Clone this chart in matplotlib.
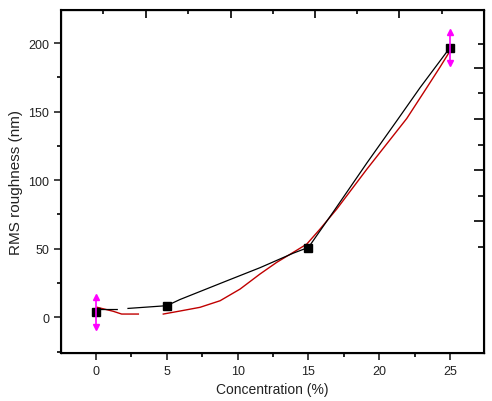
import numpy as np
import matplotlib
matplotlib.use('Agg')
import matplotlib.pyplot as plt
from matplotlib.ticker import MultipleLocator, FixedLocator, NullFormatter

plt.rcParams['font.family'] = ['Liberation Sans', 'DejaVu Sans']

# measured points
conc = [0, 5, 15, 25]
rms = [4, 8.5, 50.6, 196.7]
err_x = [0, 25]
err_y = [4, 196.7]
err = [11, 11]

# connecting line (as drawn, with gap)
line_x = [0, 1.5, np.nan, 2.26, 5, 5.93, 9.23, 11.58, 13.93, 15, 16.76, 19.12, 21.35, 22.88, 25]
line_y = [5.7, 5.7, np.nan, 6.5, 8.5, 13.0, 26.6, 36.2, 46.8, 51, 77, 112.5, 145, 167.5, 196.8]

# fitted curve
fit_x = [0.09, 1.22, 1.81, 2.99, np.nan, 4.75, 5.93, 7.34, 8.76, 10.17, 11.58, 12.76,
         13.93, 14.88, 15.82, 17.0, 19.12, 21.94, 23.23, 24.29, 24.95]
fit_y = [7.3, 4.4, 2.4, 2.4, np.nan, 2.4, 4.6, 7.3, 12.1, 20.6, 31.6, 40.1,
         47.4, 53.4, 64.4, 79, 108, 145, 165.5, 182.5, 193.5]

fig = plt.figure(figsize=(4.92, 4.02), dpi=100)
ax = fig.add_axes([0.124, 0.1194, 0.860, 0.853])

ax.plot(fit_x, fit_y, color='#c00000', lw=1.0)
ax.plot(line_x, line_y, color='black', lw=0.9)
ax.plot(conc, rms, 's', color='black', ms=6)

ax.errorbar(err_x, err_y, yerr=err, fmt='none', ecolor='#ff00ff', elinewidth=1.2, capsize=0)
ax.plot(err_x, np.array(err_y) + np.array(err), '^', color='#ff00ff', ms=5)
ax.plot(err_x, np.array(err_y) - np.array(err), 'v', color='#ff00ff', ms=5)

ax.set_xlim(-2.47, 27.4)
ax.set_ylim(-26, 224)
ax.xaxis.set_major_locator(MultipleLocator(5))
ax.xaxis.set_minor_locator(MultipleLocator(2.5))
ax.yaxis.set_major_locator(MultipleLocator(50))
ax.yaxis.set_minor_locator(MultipleLocator(25))
ax.tick_params(which='major', direction='out', length=5, width=1.2, labelsize=9, colors='#222222')
ax.tick_params(which='minor', direction='out', length=3, width=1.2)
ax.tick_params(top=False, right=False, which='both')
for s in ax.spines.values():
    s.set_linewidth(1.5)

ax.set_xlabel('Concentration (%)', fontsize=10, color='#222222')
ax.set_ylabel('RMS roughness (nm)', fontsize=11, color='#222222')

# inward ticks on the right and top frame
ax2 = ax.twinx()
ax2.set_ylim(354, 11)
ax2.yaxis.set_major_locator(FixedLocator([69, 120, 171, 222]))
ax2.yaxis.set_minor_locator(FixedLocator([45, 94, 146, 197, 248]))
ax2.yaxis.set_major_formatter(NullFormatter())
ax2.tick_params(which='major', direction='in', length=7, width=1.2)
ax2.tick_params(which='minor', direction='in', length=4, width=1.2)

ax3 = ax.twiny()
ax3.set_xlim(61, 484)
ax3.xaxis.set_major_locator(FixedLocator([146, 231, 315, 399]))
ax3.xaxis.set_minor_locator(FixedLocator([103, 188, 273, 357, 442]))
ax3.xaxis.set_major_formatter(NullFormatter())
ax3.tick_params(which='major', direction='in', length=6, width=1.2)
ax3.tick_params(which='minor', direction='in', length=3, width=1.2)

fig.savefig('out.png', dpi=100)
